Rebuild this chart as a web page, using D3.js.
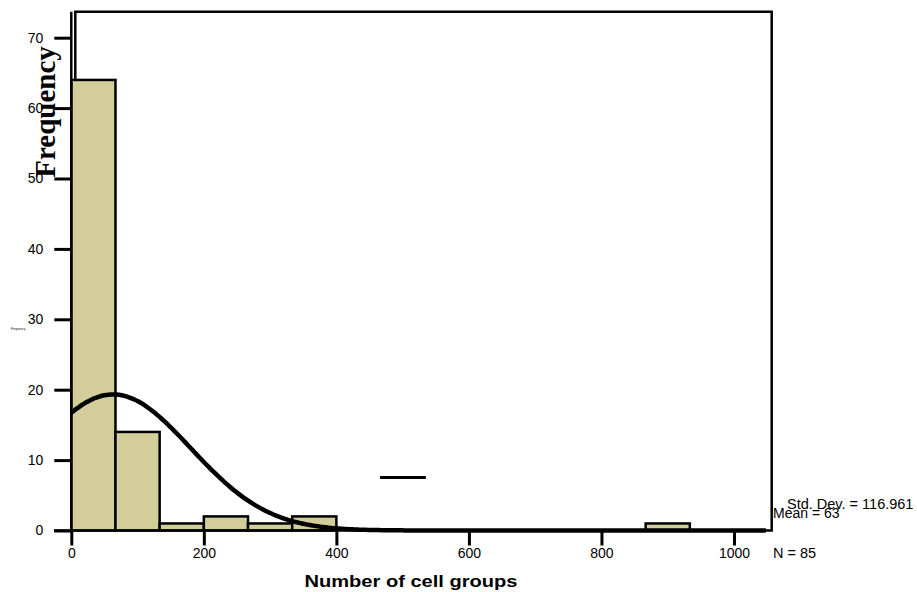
<!DOCTYPE html>
<html>
<head>
<meta charset="utf-8">
<script src="https://cdn.jsdelivr.net/npm/d3@7"></script>
<style>
  body { margin: 0; background: #fff; }
  svg text { font-family: "Liberation Sans", Arial, sans-serif; fill: #000; }
</style>
</head>
<body>
<svg id="chart" width="917" height="592"></svg>
<script>
// histogram bins (lower edge, upper edge) and counts
const binStarts = [0, 66.67, 133.33, 200, 266.67, 333.33, 866.67]
const binEnds = [66.67, 133.33, 200, 266.67, 333.33, 400, 933.33]
const counts = [64, 14, 1, 2, 1, 2, 1]
const xTicks = [0, 200, 400, 600, 800, 1000]
const yTicks = [0, 10, 20, 30, 40, 50, 60, 70]
// summary stats shown at right
const stdDev = 116.961
const mean = 63
const n = 85

const svg = d3.select('#chart')
const x = d3.scaleLinear().domain([0, 1000]).range([71.3, 734])
const y = d3.scaleLinear().domain([0, 70]).range([530.5, 37.7])
const fill = '#d3ce99'

// frame (top / left / right)
svg.append('path')
  .attr('d', `M75.3,${y(0)}V11.7H771.7V${y(0)}`)
  .attr('fill', 'none')
  .attr('stroke', '#000')
  .attr('stroke-width', 2.5)

// bars
svg.selectAll('rect.bar')
  .data(counts)
  .enter()
  .append('rect')
  .attr('class', 'bar')
  .attr('x', (d, i) => x(binStarts[i]))
  .attr('width', (d, i) => x(binEnds[i]) - x(binStarts[i]))
  .attr('y', d => y(d))
  .attr('height', d => y(0) - y(d))
  .attr('fill', fill)
  .attr('stroke', '#000')
  .attr('stroke-width', 2.5)

// y axis
const yAxis = svg.append('g')
  .attr('transform', 'translate(71.3,0)')
  .call(d3.axisLeft(y).tickValues(yTicks).tickSize(17).tickPadding(11))
yAxis.select('.domain').remove()
yAxis.selectAll('.tick line').attr('stroke-width', 3)
yAxis.selectAll('text').style('font-size', '14px')
svg.append('line')
  .attr('x1', 71.3).attr('x2', 71.3)
  .attr('y1', 11.7).attr('y2', y(0) + 1)
  .attr('stroke', '#000').attr('stroke-width', 2.5)

// x axis
const xAxis = svg.append('g')
  .attr('transform', `translate(0,${y(0)})`)
  .call(d3.axisBottom(x).tickValues(xTicks).tickFormat(d3.format('d')).tickSize(15).tickPadding(3))
xAxis.select('.domain').remove()
xAxis.selectAll('.tick line').attr('stroke-width', 3)
xAxis.selectAll('text').style('font-size', '14px')
svg.append('line')
  .attr('x1', 54).attr('x2', 772.9)
  .attr('y1', y(0)).attr('y2', y(0))
  .attr('stroke', '#000').attr('stroke-width', 2.5)

// fitted normal curve from the stats
const binW = binEnds[0] - binStarts[0]
const xs = d3.range(0, 1052, 4)
const curve = xs.map(v => [v, n * binW / (stdDev * Math.sqrt(2 * Math.PI)) * Math.exp(-0.5 * Math.pow((v - mean) / stdDev, 2))])
svg.append('path')
  .datum(curve)
  .attr('d', d3.line().x(d => x(d[0])).y(d => y(d[1])).curve(d3.curveBasis))
  .attr('fill', 'none')
  .attr('stroke', '#000')
  .attr('stroke-width', 4.5)

// stray segment
svg.append('line')
  .attr('x1', x(466)).attr('x2', x(535))
  .attr('y1', 477.5).attr('y2', 477.5)
  .attr('stroke', '#000').attr('stroke-width', 3)

// titles
svg.append('text')
  .attr('transform', 'translate(55,112) rotate(-90)')
  .attr('text-anchor', 'middle')
  .style('font-family', '"Liberation Serif", "Times New Roman", serif')
  .style('font-weight', 'bold')
  .style('font-size', '29px')
  .text('Frequency')
svg.append('text')
  .attr('x', 11).attr('y', 330)
  .style('font-size', '3px')
  .text('Frequency')
svg.append('text')
  .attr('x', 411).attr('y', 587)
  .attr('text-anchor', 'middle')
  .style('font-weight', 'bold')
  .style('font-size', '16px')
  .attr('textLength', 213)
  .attr('lengthAdjust', 'spacingAndGlyphs')
  .text('Number of cell groups')

// stats
svg.append('text').attr('x', 787).attr('y', 509).style('font-size', '14.5px')
  .text('Std. Dev. = ' + stdDev)
svg.append('text').attr('x', 773).attr('y', 518).style('font-size', '14px')
  .text('Mean = ' + mean)
svg.append('text').attr('x', 773).attr('y', 558).style('font-size', '14.5px')
  .text('N = ' + n)
</script>
</body>
</html>
